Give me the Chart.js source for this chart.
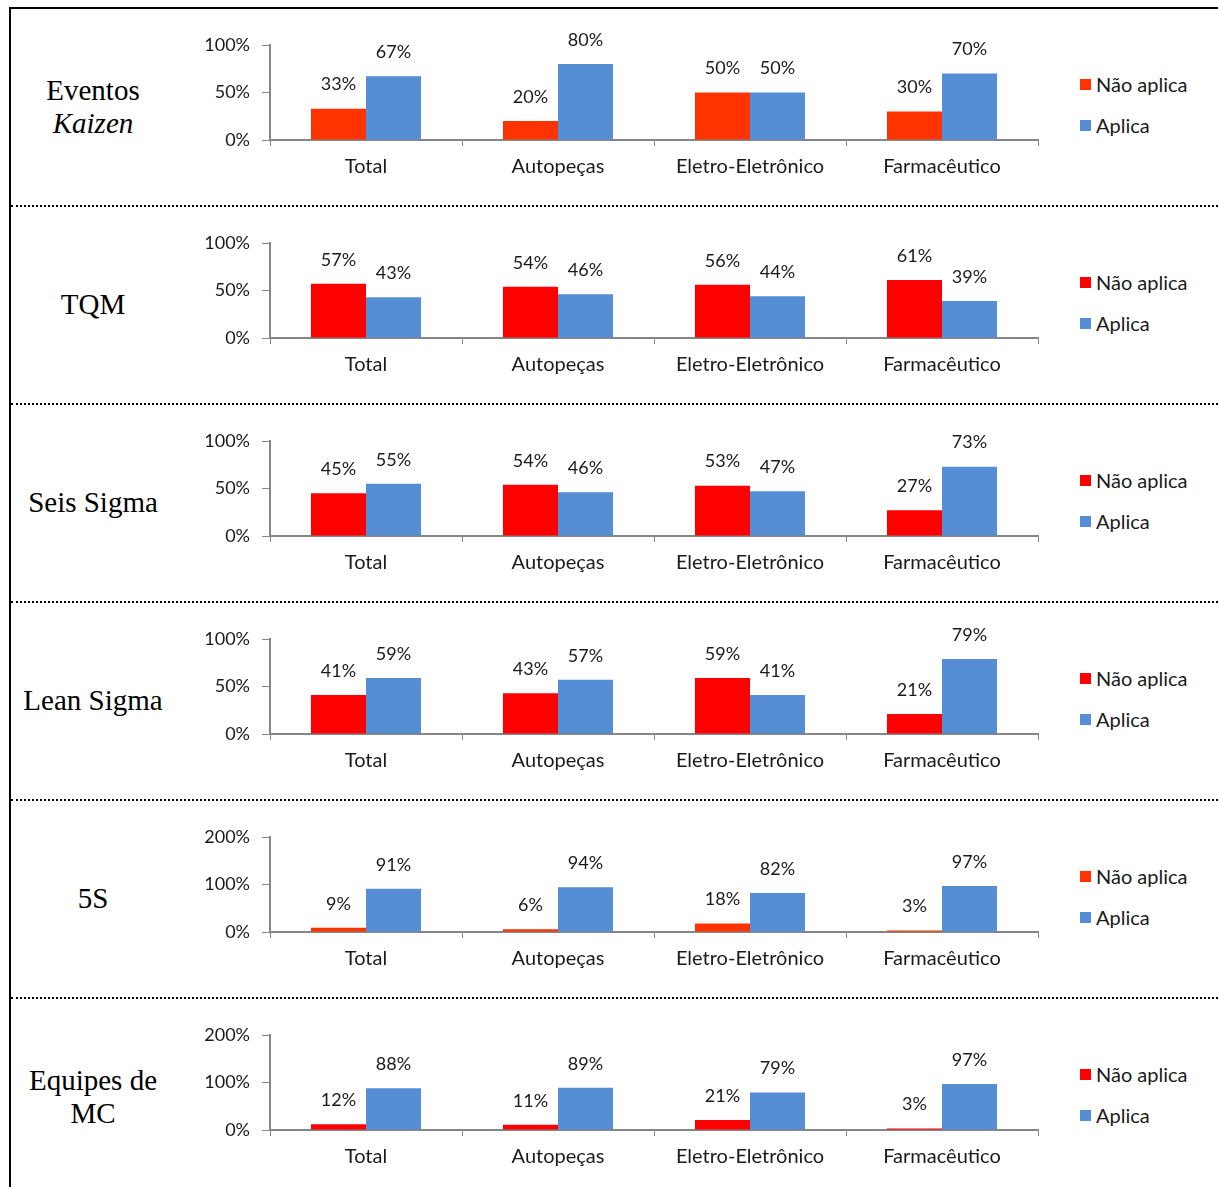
<!DOCTYPE html>
<html>
<head>
<meta charset="utf-8">
<script src="https://cdn.jsdelivr.net/npm/chart.js@4.4.1/dist/chart.umd.min.js"></script>
<style>
  body { margin: 0; background: #fff; }
  .frame { position: absolute; left: 9px; top: 7px; width: 1209px; height: 1180px;
           border-left: 2px solid #000; border-top: 2px solid #000; box-sizing: border-box; }
  .sep { position: absolute; left: 11px; width: 1207px; height: 0; border-top: 2px dotted #000; }
  .lbl { position: absolute; left: 11px; width: 164px; height: 197px; display: flex;
         align-items: center; justify-content: center; text-align: center;
         font-family: "Liberation Serif", "Times New Roman", serif; font-size: 29px; line-height: 33px; color: #000; }
  .box { position: absolute; left: 180px; width: 870px; height: 190px; }
  .leg { position: absolute; left: 1080px; font-family: Lato, sans-serif; font-size: 20px; color: #1a1a1a; }
  .leg div { height: 41px; display: flex; align-items: center; }
  .leg span.sw { display: inline-block; width: 11px; height: 11px; margin-right: 5px; }
</style>
</head>
<body>
<div class="frame"></div>
<div id="page"></div>
<script>
// categories shared by every row
const categories = ['Total', 'Autopeças', 'Eletro-Eletrônico', 'Farmacêutico'];
const seriesNames = ['Não aplica', 'Aplica'];

// row titles (html, for the italic Kaizen)
const rowTitles = ['Eventos<br><i>Kaizen</i>', 'TQM', 'Seis Sigma', 'Lean Sigma', '5S', 'Equipes de<br>MC'];

// values in %
const kaizenNao = [33, 20, 50, 30];
const kaizenSim = [67, 80, 50, 70];
const tqmNao = [57, 54, 56, 61];
const tqmSim = [43, 46, 44, 39];
const seisNao = [45, 54, 53, 27];
const seisSim = [55, 46, 47, 73];
const leanNao = [41, 43, 59, 21];
const leanSim = [59, 57, 41, 79];
const cincoSNao = [9, 6, 18, 3];
const cincoSSim = [91, 94, 82, 97];
const equipesNao = [12, 11, 21, 3];
const equipesSim = [88, 89, 79, 97];

const naoValues = [kaizenNao, tqmNao, seisNao, leanNao, cincoSNao, equipesNao];
const simValues = [kaizenSim, tqmSim, seisSim, leanSim, cincoSSim, equipesSim];
const axisMax = [100, 100, 100, 100, 200, 200];
const axisStep = [50, 50, 50, 50, 100, 100];
const naoColors = ['#FF3300', '#FF0000', '#FF0000', '#FF0000', '#FF3300', '#FF0000'];
const simColor = '#558ED5';

// value labels above each bar
const valueLabels = {
    id: 'valueLabels',
    afterDatasetsDraw(chart) {
        const ctx = chart.ctx;
        ctx.save();
        ctx.font = '18px Lato';
        ctx.fillStyle = '#1a1a1a';
        ctx.textAlign = 'center';
        ctx.textBaseline = 'middle';
        chart.data.datasets.forEach((ds, i) => {
            chart.getDatasetMeta(i).data.forEach((bar, j) => {
                ctx.fillText(ds.data[j] + '%', bar.x, bar.y - 24);
            });
        });
        ctx.restore();
    }
};

Chart.defaults.font.family = 'Lato';
Chart.defaults.font.size = 18;
Chart.defaults.color = '#1a1a1a';

const page = document.getElementById('page');

for (let r = 0; r < rowTitles.length; r++) {
    const top = 8 + 198 * r;

    if (r > 0) {
        const sep = document.createElement('div');
        sep.className = 'sep';
        sep.style.top = (top - 4 + 3) + 'px';
        page.appendChild(sep);
    }

    const lbl = document.createElement('div');
    lbl.className = 'lbl';
    lbl.style.top = top + 'px';
    lbl.innerHTML = '<div>' + rowTitles[r] + '</div>';
    page.appendChild(lbl);

    const box = document.createElement('div');
    box.className = 'box';
    box.style.top = (top + 2) + 'px';
    const cv = document.createElement('canvas');
    box.appendChild(cv);
    page.appendChild(box);

    const chart = new Chart(cv, {
        type: 'bar',
        data: {
            labels: categories,
            datasets: [
                { label: seriesNames[0], data: naoValues[r], backgroundColor: naoColors[r],
                  barPercentage: 1, categoryPercentage: 0.573 },
                { label: seriesNames[1], data: simValues[r], backgroundColor: simColor,
                  barPercentage: 1, categoryPercentage: 0.573 }
            ]
        },
        options: {
            responsive: true, maintainAspectRatio: false,
            animation: false,
            layout: { padding: { top: 35, right: 12, left: 0, bottom: 0 } },
            plugins: {
                legend: { display: false },
                tooltip: { enabled: false }
            },
            scales: {
                x: {
                    grid: { offset: true, drawOnChartArea: false, tickLength: 6, color: '#868686' },
                    border: { color: '#868686', width: 2 },
                    ticks: { padding: 9, font: { size: 20 } },
                    afterFit: (scale) => { scale.height = 60; }
                },
                y: {
                    min: 0, max: axisMax[r],
                    grid: { drawOnChartArea: false, tickLength: 8, color: '#868686' },
                    border: { color: '#868686', width: 2 },
                    ticks: { stepSize: axisStep[r], padding: 12, callback: (v) => v + '%' },
                    afterFit: (scale) => { scale.width = 90; }
                }
            }
        },
        plugins: [valueLabels]
    });

    // html legend built from the chart's own legend items
    const leg = document.createElement('div');
    leg.className = 'leg';
    leg.style.top = (top + 55.5) + 'px';
    Chart.defaults.plugins.legend.labels.generateLabels(chart).forEach(item => {
        const row = document.createElement('div');
        row.innerHTML = '<span class="sw" style="background:' + item.fillStyle + '"></span>' + item.text;
        leg.appendChild(row);
    });
    page.appendChild(leg);
}
</script>
</body>
</html>
